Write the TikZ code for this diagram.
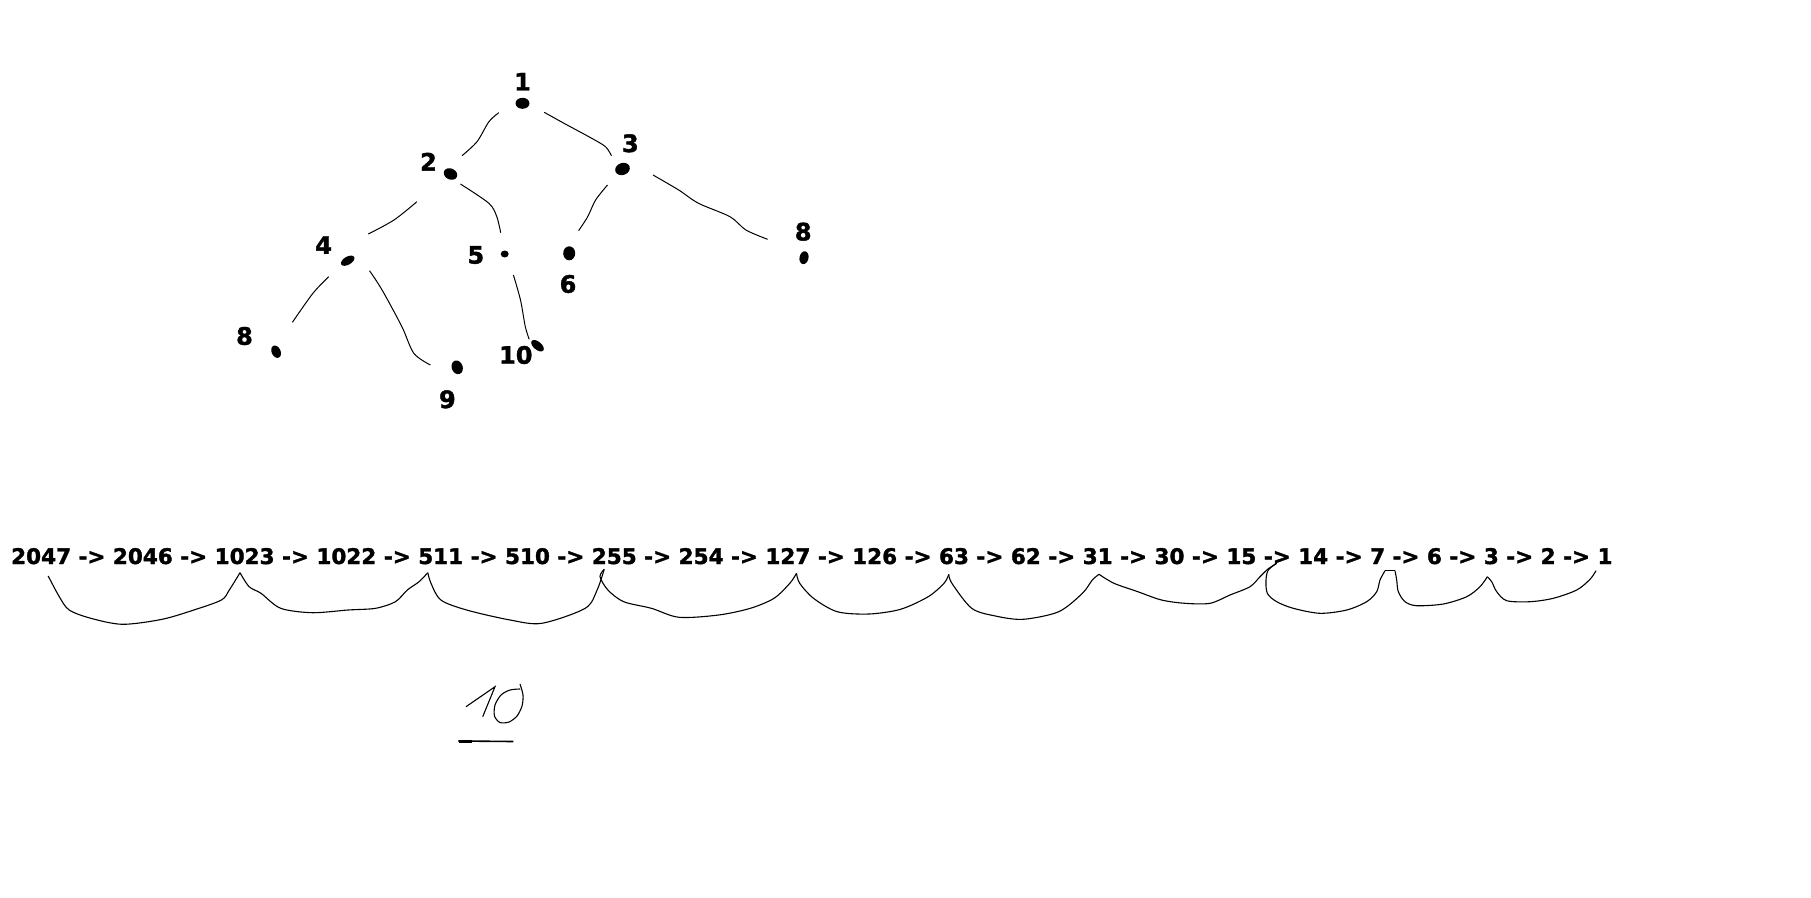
\documentclass[tikz,border=0pt]{standalone}
\usepackage{fontspec}
\setmainfont[BoldFeatures={FakeBold=1.6}]{DejaVu Sans}
\usetikzlibrary{shapes.geometric}
\begin{document}
\begin{tikzpicture}[x=1pt,y=-1pt,
  dot/.style={ellipse, fill=black, inner sep=0pt},
  lbl/.style={font=\fontsize{24}{28}\selectfont\bfseries, inner sep=0pt},
  edge/.style={line width=1pt},
  arcline/.style={line width=1.1pt}]
\fill[white] (0,0) rectangle (1811,897);
\useasboundingbox (0,0) rectangle (1811,897);

% tree dots
\node[dot,minimum width=14,minimum height=11] (d1) at (522.5,103.3) {};
\node[dot,minimum width=14,minimum height=11,rotate=-25] (d2) at (450.5,174) {};
\node[dot,minimum width=15,minimum height=12,rotate=20] (d3) at (622.5,169) {};
\node[dot,minimum width=15,minimum height=8,rotate=30] (d4) at (347.7,260.7) {};
\node[dot,minimum width=8,minimum height=7] (d5) at (504.7,254) {};
\node[dot,minimum width=12,minimum height=14] (d6) at (569.2,253.3) {};
\node[dot,minimum width=9,minimum height=13,rotate=-12] (d8r) at (804,257.7) {};
\node[dot,minimum width=9,minimum height=13,rotate=25] (d8l) at (276.1,351.7) {};
\node[dot,minimum width=11,minimum height=14,rotate=20] (d9) at (457.2,367.3) {};
\node[dot,minimum width=15,minimum height=8,rotate=-40] (d10) at (537.5,345.7) {};

% tree labels
\node[lbl] (l1) at (522.5,81.7) {1};
\node[lbl] (l2) at (428.4,161.7) {2};
\node[lbl] (l3) at (630.4,143.3) {3};
\node[lbl] (l4) at (323.6,245) {4};
\node[lbl] (l5) at (475.8,255) {5};
\node[lbl] (l6) at (568,284) {6};
\node[lbl] (l8r) at (803.2,231.7) {8};
\node[lbl] (l8l) at (244.5,336) {8};
\node[lbl] (l9) at (447.4,399.3) {9};
\node[lbl] (l10) at (515.8,355) {10};

% tree edges (hand drawn)
\draw[edge] plot[smooth] coordinates {(498.8,112.7) (488.9,121.7) (477,141.7) (462,155.7)};
\draw[edge] plot[smooth] coordinates {(544.2,112.3) (564,123.3) (591.7,138.3) (605.5,146.7) (611.5,155.7)};
\draw[edge] plot[smooth] coordinates {(416.9,201.7) (394,220) (368.3,234)};
\draw[edge] plot[smooth] coordinates {(460.4,184) (488.9,203.3) (496.8,216.7) (500.7,232.7)};
\draw[edge] plot[smooth] coordinates {(607.5,185) (595.6,200) (587.7,216.7) (578.6,230.7)};
\draw[edge] plot[smooth] coordinates {(653,175) (678.7,190) (698.5,203.3) (730,216.7) (745.9,230) (767.6,239.3)};
\draw[edge] plot[smooth] coordinates {(328.7,276.7) (312.9,293.3) (292.4,322.3)};
\draw[edge] plot[smooth] coordinates {(369.5,270.7) (382.1,290) (401.9,326.7) (413.8,353.3) (430.4,365)};
\draw[edge] plot[smooth] coordinates {(513.4,275) (520.5,300) (525.3,326.7) (529.2,339.3)};

% sequence
\node[anchor=base west, inner sep=0pt, font=\fontsize{21.5}{26}\selectfont\bfseries] (seq) at (11,564)
  {2047 -> 2046 -> 1023 -> 1022 -> 511 -> 510 -> 255 -> 254 -> 127 -> 126 -> 63 -> 62 -> 31 -> 30 -> 15 -> 14 -> 7 -> 6 -> 3 -> 2 -> 1};

% arcs under the sequence
\draw[arcline] plot[smooth] coordinates {(48.2,576) (59.3,596.7) (69.2,610) (90.9,618.3) (122.6,624.3) (162.1,619.3) (193.8,610) (221.4,600) (229.3,590) (240,572.7)};
\draw[arcline] plot[smooth] coordinates {(240,572.7) (249.1,586.7) (261,593.3) (280.7,608.3) (312.4,612.7) (348,610) (375.6,608.3) (395.4,601.7) (407.3,590) (419.1,581.7) (427.8,572.7)};
\draw[arcline] plot[smooth] coordinates {(427.8,572.7) (431,583.3) (440.9,600) (466.6,610) (510.1,620) (541.7,623.3) (585.2,608.3) (597.1,590) (604.2,569.3)};
\draw[arcline] plot[smooth] coordinates {(604.2,569.3) (600,576.7) (607.9,590) (623.7,601.7) (651.4,608.3) (679.1,617.3) (718.6,615) (750.3,608.3) (774,598.3) (789.8,583.3) (796.5,573.3)};
\draw[arcline] plot[smooth] coordinates {(796.5,573.3) (799.7,583.3) (813.5,598.3) (837.2,611.7) (868.9,614) (900.5,609.3) (928.2,596.7) (944,583.3) (948.8,574.3)};
\draw[arcline] plot[smooth] coordinates {(948.8,574.3) (951.9,583.3) (971.7,608.3) (995.4,616) (1023.1,619.3) (1058.7,611.7) (1082.4,593.3) (1092.3,580) (1099,574.3)};
\draw[arcline] plot[smooth] coordinates {(1099,574.3) (1114,583.3) (1137.8,591.7) (1161.5,600) (1185,603.3) (1210,603.3) (1230,595) (1250,586.7) (1260,576.7) (1268,569) (1276.7,563.3)};
\draw[arcline] plot[smooth] coordinates {(1276.7,563.3) (1268.3,570) (1266,580) (1267.3,593.3) (1276.7,601.7) (1293.3,608.3) (1320,613.3) (1346.7,610) (1366.7,601.7) (1376.7,591.7) (1380,580) (1385,570.7)};
\draw[arcline] (1385,570.7) -- (1395,570.7);
\draw[arcline] plot[smooth] coordinates {(1395,570.7) (1396.7,580) (1398.3,591.7) (1405,601.7) (1416.7,605.7) (1443.3,604) (1466.7,596.7) (1480,586.7) (1487.3,576.7)};
\draw[arcline] plot[smooth] coordinates {(1487.3,576.7) (1491.7,581.7) (1496.7,591.7) (1506.7,600.7) (1530,601.7) (1553.3,598.3) (1576.7,590) (1590,579.3) (1596,570.7)};

% handwritten 10 with underline
\draw[arcline] (466,706.7) -- (495,686.7) -- (482.7,716.7);
\draw[arcline] plot[smooth] coordinates {(520,684) (523,695) (522,706) (517,716) (509,722) (500,722.5) (494.5,716) (495,705) (501,695) (510,690) (520,689)};
\draw[line width=1.6pt] (458.3,741) -- (513.3,741.5);
\draw[line width=3pt] (459,741) -- (472,741);
\end{tikzpicture}
\end{document}
